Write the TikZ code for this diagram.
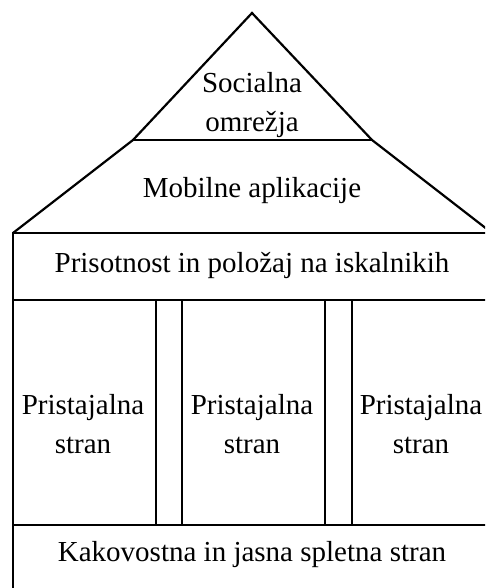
\documentclass[tikz,border=0pt]{standalone}
\usepackage{fontspec}
\setmainfont{Liberation Serif}
\tikzset{
  edge/.style={line width=2.2pt, line join=miter, black},
  lbl/.style={font=\fontsize{29}{38.5}\selectfont, align=center, inner sep=0pt, anchor=center}
}
\begin{document}
\begin{tikzpicture}[x=1pt,y=-1pt]
\useasboundingbox (0,0) rectangle (485,588);
\clip (0,0) rectangle (485,588);
% roof
\coordinate (apex) at (252,13);
\coordinate (kl) at (133,140);
\coordinate (kr) at (372,140);
\coordinate (bl) at (13,233);
\coordinate (br) at (492,233);
\draw[edge] (bl) -- (kl) -- (apex) -- (kr) -- (br);
\draw[edge] (kl) -- (kr);
% body
\coordinate (tl) at (13,233);
\coordinate (tr) at (492,233);
\coordinate (ml) at (13,300);
\coordinate (mr) at (492,300);
\coordinate (nl) at (13,525);
\coordinate (nr) at (492,525);
\coordinate (fl) at (13,600);
\coordinate (fr) at (492,600);
\draw[edge] (tr) -- (tl) -- (fl);
\draw[edge] (tr) -- (fr);
\draw[edge] (ml) -- (mr);
\draw[edge] (nl) -- (nr);
% pillars
\foreach \x in {156,182,325,352} {
  \draw[edge] (\x,300) -- (\x,525);
}
% texts
\node[lbl] (soc) at (252,105) {Socialna\\omrežja};
\node[lbl] (mob) at (252,191) {Mobilne aplikacije};
\node[lbl] (pris) at (252,265) {Prisotnost in položaj na iskalnikih};
\node[lbl] (p1) at (83,424) {Pristajalna\\stran};
\node[lbl] (p2) at (252,424) {Pristajalna\\stran};
\node[lbl] (p3) at (421,424) {Pristajalna\\stran};
\node[lbl] (kak) at (252,555) {Kakovostna in jasna spletna stran};
\end{tikzpicture}
\end{document}
